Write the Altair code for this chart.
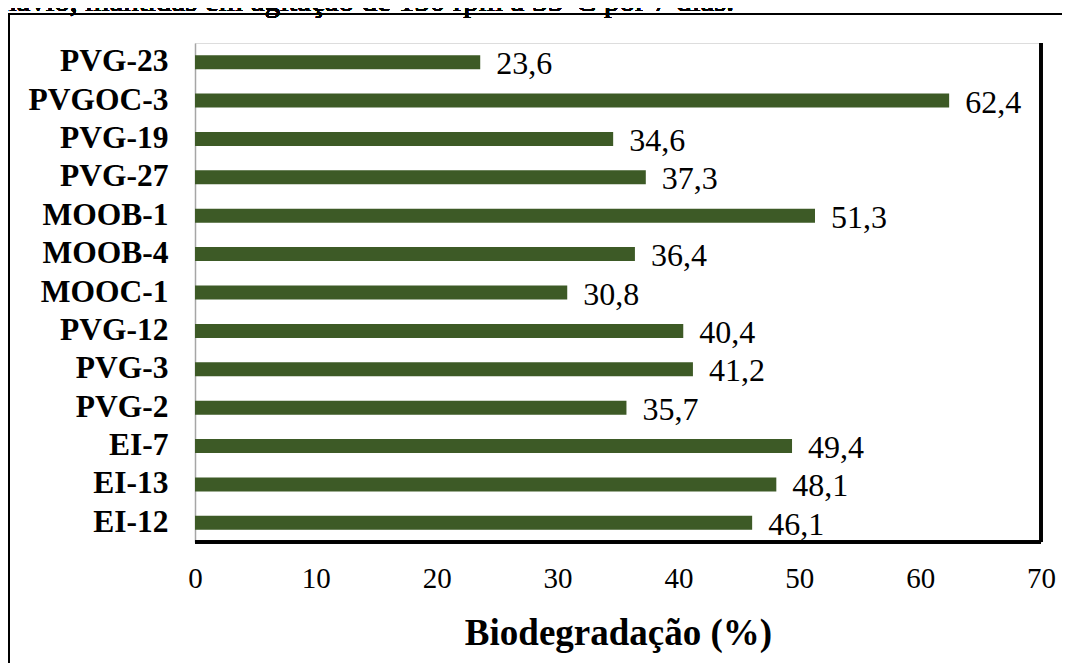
import altair as alt
import pandas as pd

categories = ["PVG-23", "PVGOC-3", "PVG-19", "PVG-27", "MOOB-1", "MOOB-4", "MOOC-1",
              "PVG-12", "PVG-3", "PVG-2", "EI-7", "EI-13", "EI-12"]
values = [23.6, 62.4, 34.6, 37.3, 51.3, 36.4, 30.8, 40.4, 41.2, 35.7, 49.4, 48.1, 46.1]
x_ticks = [0, 10, 20, 30, 40, 50, 60, 70]
caption = "navio, mantidas em agitação de 150 rpm a 35°C por 7 dias."
x_title = "Biodegradação (%)"

df = pd.DataFrame({"cat": categories, "val": values})

W, H = 846, 499
SERIF = "'Times New Roman', 'Liberation Serif', Tinos, Times, serif"
GREEN = "#3d5a26"

y_enc = alt.Y("cat:N", sort=categories,
              scale=alt.Scale(paddingInner=0.635, paddingOuter=0.3175),
              axis=alt.Axis(title=None, labelFont=SERIF, labelFontWeight="bold",
                            labelFontSize=31.5, labelColor="#000", labelPadding=27,
                            ticks=False, domainColor="#a6a6a6", domainWidth=1.5))
x_enc = alt.X("val:Q", scale=alt.Scale(domain=[0, 70], nice=False),
              axis=alt.Axis(values=x_ticks, title=x_title, grid=False, ticks=False,
                            domain=False, labelFont=SERIF, labelFontSize=29,
                            labelFontWeight="normal", labelFlush=False,
                            labelColor="#000", labelPadding=22,
                            titleFont=SERIF, titleFontWeight="bold", titleFontSize=37,
                            titleColor="#000", titlePadding=22))

bars = alt.Chart(df).mark_bar(color=GREEN).encode(x=x_enc, y=y_enc)

labels = alt.Chart(df).transform_calculate(
    lab="replace(format(datum.val, '.1f'), '.', ',')"
).mark_text(align="left", baseline="middle", dx=16, dy=2, font=SERIF,
            fontWeight="normal", fontSize=32, color="#000").encode(
    x=alt.X("val:Q"), y=alt.Y("cat:N", sort=categories), text="lab:N")

# plot-area frame: right and bottom edges black
frame_r = alt.Chart(df).mark_rule(color="#000", strokeWidth=2.5).encode(
    x=alt.value(W), y=alt.value(0), y2=alt.value(H))
frame_b = alt.Chart(df).mark_rule(color="#000", strokeWidth=2.5).encode(
    x=alt.value(0), x2=alt.value(W), y=alt.value(H))

# outer chart border
outer = alt.Chart(df).mark_rect(fill=None, stroke="#000", strokeWidth=2).encode(
    x=alt.value(-186), x2=alt.value(900), y=alt.value(-29), y2=alt.value(660))

cap = alt.Chart(df).mark_text(align="left", baseline="alphabetic", font=SERIF,
                              fontWeight="normal", fontSize=31, color="#000").encode(
    x=alt.value(-194), y=alt.value(-32), text=alt.value(caption))

chart = alt.layer(outer, bars, labels, frame_r, frame_b, cap).properties(
    width=W, height=H,
    autosize=alt.AutoSizeParams(type="none"),
    padding={"left": 187, "top": 35, "right": 21, "bottom": 121},
).configure_view(stroke="#6f6f6f", strokeWidth=1.2).configure(background="white")

chart.save("out.html", embed_options={"renderer": "svg", "actions": False})
